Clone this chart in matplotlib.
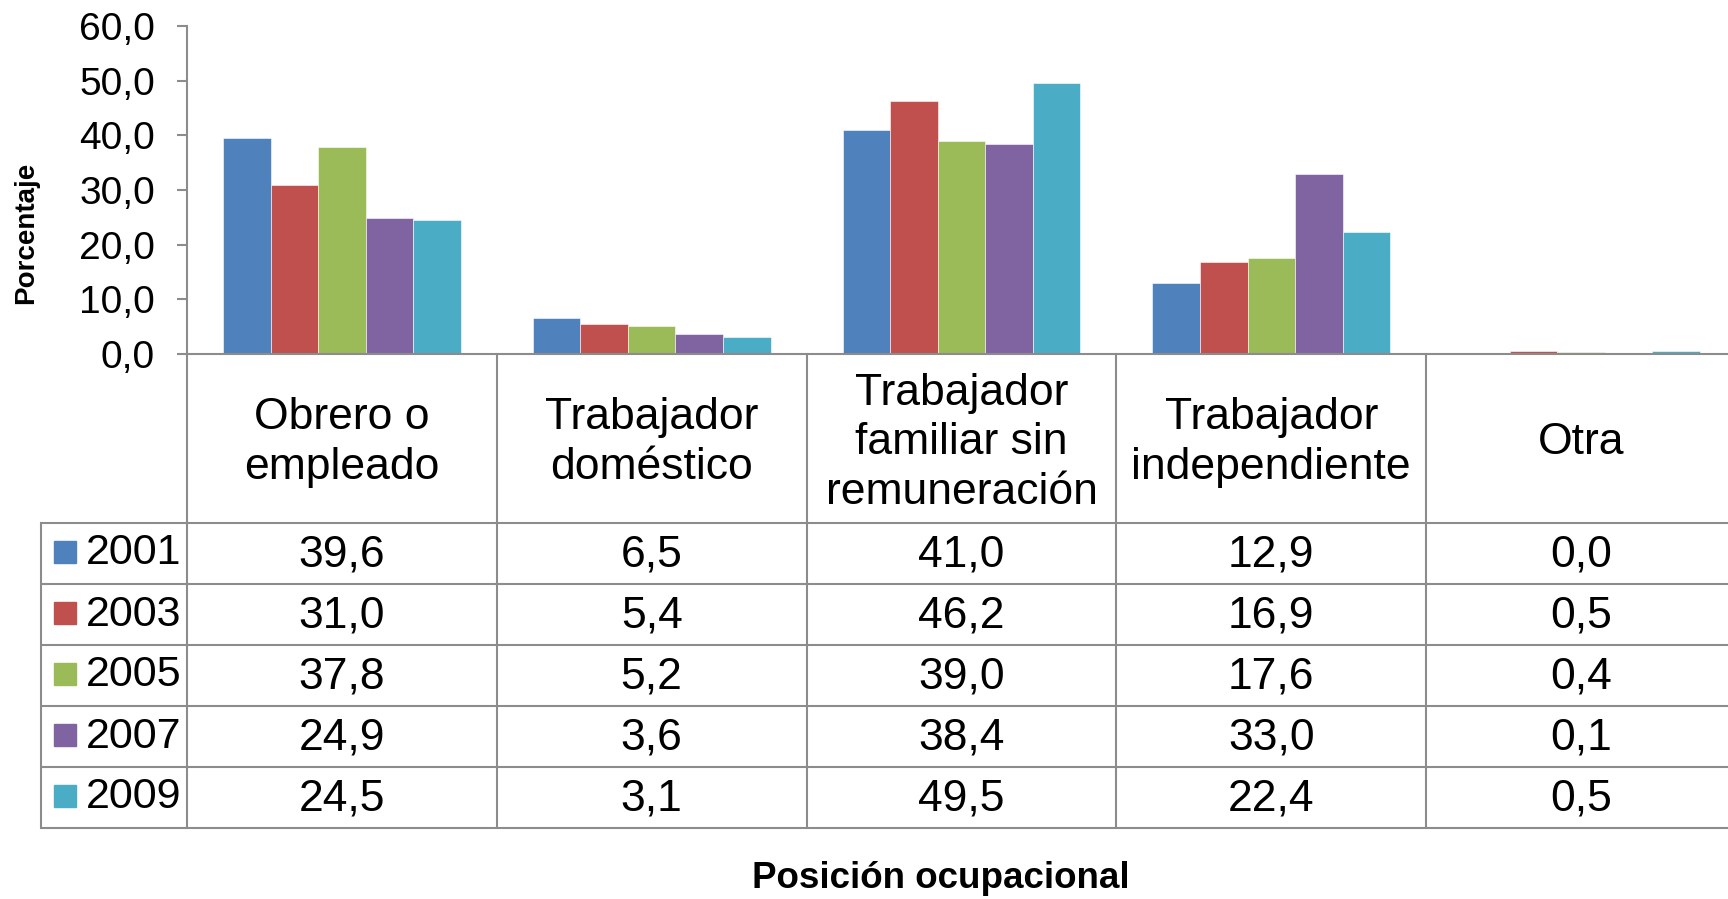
"""Posición ocupacional por año: barras agrupadas con tabla de datos."""

import matplotlib

matplotlib.use("Agg")
import matplotlib.pyplot as plt
from matplotlib.patches import Rectangle
from matplotlib.ticker import FuncFormatter

plt.rcParams["font.family"] = ["Liberation Sans", "DejaVu Sans"]

CATEGORIES = [
    "Obrero o\nempleado",
    "Trabajador\ndoméstico",
    "Trabajador\nfamiliar sin\nremuneración",
    "Trabajador\nindependiente",
    "Otra",
]
YEARS = ["2001", "2003", "2005", "2007", "2009"]
VALUES = [
    [39.6, 6.5, 41.0, 12.9, 0.0],
    [31.0, 5.4, 46.2, 16.9, 0.5],
    [37.8, 5.2, 39.0, 17.6, 0.4],
    [24.9, 3.6, 38.4, 33.0, 0.1],
    [24.5, 3.1, 49.5, 22.4, 0.5],
]
COLORS = ["#4F81BD", "#C0504D", "#9BBB59", "#8064A2", "#4BACC6"]
Y_TICKS = [0, 10, 20, 30, 40, 50, 60]

GRID = "#8C8C8C"
W, H = 1728, 899


def fmt(v):
    return f"{v:.1f}".replace(".", ",")


fig = plt.figure(figsize=(W / 100, H / 100), dpi=100)

# pixel layout of the original
ax_left, ax_right, ax_top, ax_bottom = 187, 1736, 26, 354
tbl_left, tbl_bottom = 41, 828
col_w = (ax_right - ax_left) / len(CATEGORIES)
row_h = (tbl_bottom - 523) / len(YEARS)
head_h = (523 - ax_bottom) / row_h

ax = fig.add_axes([ax_left / W, 1 - ax_bottom / H,
                   (ax_right - ax_left) / W, (ax_bottom - ax_top) / H])
n = len(YEARS)
bw = 0.768 / n
for i, (year, vals) in enumerate(zip(YEARS, VALUES)):
    xs = [c - 0.384 + bw * (i + 0.5) for c in range(len(CATEGORIES))]
    ax.bar(xs, vals, width=bw, color=COLORS[i], edgecolor="white", linewidth=0.4)

ax.set_xlim(-0.5, len(CATEGORIES) - 0.5)
ax.set_ylim(0, 60)
ax.set_yticks(Y_TICKS)
ax.yaxis.set_major_formatter(FuncFormatter(lambda v, _: fmt(v)))
ax.tick_params(axis="y", labelsize=28, length=7, width=1.5, color=GRID, pad=16)
ax.set_xticks([])
for side in ("top", "right"):
    ax.spines[side].set_visible(False)
for side in ("left", "bottom"):
    ax.spines[side].set_color(GRID)
    ax.spines[side].set_linewidth(1.5)

# data table under the plot
tx0 = -0.5 - (ax_left - tbl_left) / col_w
tab = fig.add_axes([tbl_left / W, 1 - tbl_bottom / H,
                    (ax_right - tbl_left) / W, (tbl_bottom - ax_bottom) / H])
tab.set_xlim(tx0, len(CATEGORIES) - 0.5)
tab.set_ylim(head_h + n, 0)
tab.axis("off")

lw = 1.5
for r in range(n + 1):
    tab.plot([tx0, len(CATEGORIES) - 0.5], [head_h + r] * 2, color=GRID, lw=lw,
             clip_on=False, solid_capstyle="butt")
tab.plot([tx0, tx0], [head_h, head_h + n], color=GRID, lw=lw, clip_on=False)
for c in range(len(CATEGORIES)):
    tab.plot([c - 0.5, c - 0.5], [0, head_h + n], color=GRID, lw=lw, clip_on=False)

for c, name in enumerate(CATEGORIES):
    tab.text(c, head_h / 2 + 0.07, name, ha="center", va="center", fontsize=32,
             linespacing=1.27)
    for r in range(n):
        tab.text(c, head_h + r + 0.53, fmt(VALUES[r][c]), ha="center",
                 va="center", fontsize=32)

sq_w = 22 / col_w
sq_h = 22 / row_h
for r, year in enumerate(YEARS):
    tab.add_patch(Rectangle((tx0 + 13 / col_w, head_h + r + 0.5 - sq_h / 2 - 0.03),
                            sq_w, sq_h, color=COLORS[r], clip_on=False))
    tab.text(tx0 + 45 / col_w, head_h + r + 0.5, year, ha="left", va="center",
             fontsize=31)

fig.text(26 / W, 1 - 233 / H, "Porcentaje", rotation=90, ha="center",
         va="center", fontsize=20, fontweight="bold")
fig.text(941 / W, 1 - 878 / H, "Posición ocupacional", ha="center",
         va="center", fontsize=26.5, fontweight="bold")

fig.savefig("out.png", dpi=100)
